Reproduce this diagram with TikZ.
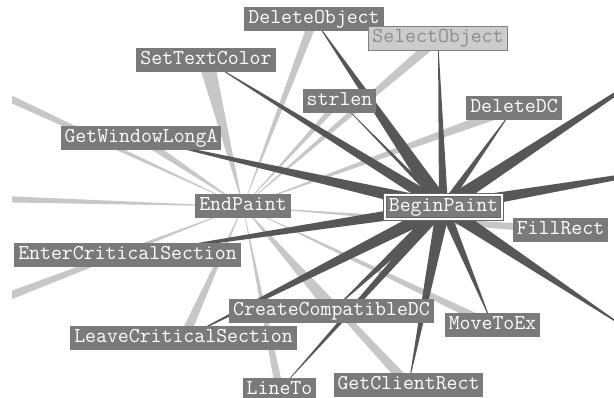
\documentclass[tikz,border=0pt]{standalone}
\usetikzlibrary{calc,backgrounds}
\tikzstyle{fn}=[fill=black!52,text=white,font=\ttfamily\fontsize{21.2}{24}\selectfont,inner xsep=4pt,inner ysep=3.5pt,text height=13pt,text depth=4pt]
\tikzstyle{hot}=[fn,draw=black!60,double=white,double distance=2pt,line width=.6pt]
\tikzstyle{sel}=[fn,fill=black!20,text=black!45,draw=black!50,line width=1pt]
\tikzstyle{dkedge}=[fill=black!66]
\tikzstyle{ltedge}=[fill=black!22]

\begin{document}
\begin{tikzpicture}[x=1pt,y=-1pt]
\useasboundingbox (0,0) rectangle (614,398);
\node[fn] (dobj) at (314,19) {DeleteObject};
\node[sel] (so) at (438,38.5) {SelectObject};
\node[fn] (stc) at (206,60) {SetTextColor};
\node[fn] (sl) at (339.5,101) {strlen};
\node[fn] (ddc) at (514,108) {DeleteDC};
\node[fn] (gwl) at (141,138.5) {GetWindowLongA};
\node[fn] (ep) at (243,206.5) {EndPaint};
\node[hot] (bp) at (443.5,207) {BeginPaint};
\node[fn] (fr) at (560.5,230) {FillRect};
\node[fn] (ecs) at (127.5,255) {EnterCriticalSection};
\node[fn] (ccdc) at (331.5,311.5) {CreateCompatibleDC};
\node[fn] (mte) at (492.5,325) {MoveToEx};
\node[fn] (lcs) at (183.5,338.5) {LeaveCriticalSection};
\node[fn] (lto) at (279.5,390) {LineTo};
\node[fn] (gcr) at (408.5,385) {GetClientRect};
\coordinate (offul) at (-80,57);
\coordinate (offl) at (-100,196);
\coordinate (offll) at (-80,330);
\coordinate (offur) at (687,47);
\coordinate (offr) at (720,160);
\coordinate (offlr) at (635,334);
\begin{scope}[on background layer]
\fill[white] (0,0) rectangle (614,398);
\clip (12,0) rectangle (614,398);
\foreach \n/\w in {stc/8pt,dobj/4.5pt,so/5pt,ddc/5pt,sl/3pt,gwl/4pt,fr/4pt,mte/4pt,gcr/5pt,lto/4pt,lcs/5pt,ccdc/4pt,offul/5pt,offl/4.5pt,offll/5.5pt}
  \fill[ltedge] ($(\n.center)!\w!90:(ep.center)$) -- ($(\n.center)!\w!-90:(ep.center)$) -- (ep.center) -- cycle;
\foreach \n/\w in {so/4.5pt,ddc/4pt,sl/2.5pt,dobj/8pt,stc/6pt,gwl/7pt,ecs/6pt,lcs/7pt,ccdc/6pt,lto/5pt,gcr/7pt,mte/5pt,offur/7pt,offr/6.5pt,offlr/7pt}
  \fill[dkedge] ($(bp.center)!\w!90:(\n.center)$) -- ($(bp.center)!\w!-90:(\n.center)$) -- (\n.center) -- cycle;
\end{scope}
\end{tikzpicture}
\end{document}
